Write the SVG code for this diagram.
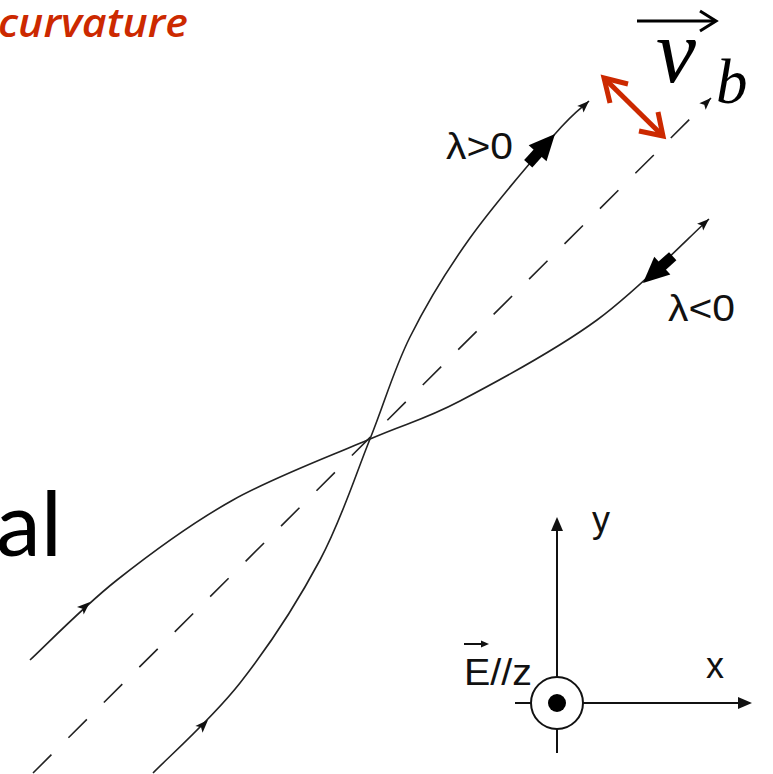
<svg xmlns="http://www.w3.org/2000/svg" width="773" height="774" viewBox="0 0 773 774">
<style>
.curve{fill:none;stroke:#222;stroke-width:1.6}
.dash{fill:none;stroke:#222;stroke-width:1.6;stroke-dasharray:26 24}
.ax{fill:none;stroke:#111;stroke-width:2}
.lbl{font-family:"Liberation Sans",Arial,sans-serif;fill:#111}
.head{fill:#111}
</style>
<defs>
<marker id="sm" markerUnits="userSpaceOnUse" markerWidth="14" markerHeight="12" viewBox="-13 -6 14 12" refX="0" refY="0" orient="auto">
<polygon points="0,0 -12,-4.5 -9.5,0 -12,4.5" fill="#111"/>
</marker>
<polygon id="small" points="0,0 -13,-5 -10,0 -13,5" fill="#111"/>
<g id="thick" fill="#000"><polygon points="0,0 -26,-12 -26,12"/><rect x="-40" y="-5.5" width="16" height="11"/></g>
</defs>

<g id="title"><text x="-2" y="37" font-family="'Open Sans','Liberation Sans',sans-serif" font-style="italic" font-weight="600" font-size="39" fill="#cc2900" textLength="190" lengthAdjust="spacingAndGlyphs">curvature</text></g>

<g id="word"><text x="-4" y="556" font-family="Lato,'Open Sans',sans-serif" font-size="90" fill="#000">al</text></g>

<g id="connectors">
<path class="dash" d="M33,773 L711,98" marker-end="url(#sm)"/>
<path id="curveA" class="curve" d="M153,773 C167.5,758 212.2,718.5 240,683 C267.8,647.5 298.3,600.7 320,560 C341.7,519.3 355,476.2 370,439 C385,401.8 393.3,370.5 410,337 C426.7,303.5 445.8,271.8 470,238 C494.2,204.2 535.3,156.7 555,134 C574.7,111.3 582.5,107.3 589,101" marker-end="url(#sm)"/>
<path id="curveB" class="curve" d="M30,660 C44.5,646.7 83.2,606.7 117,580 C150.8,553.3 190.8,523.5 233,500 C275.2,476.5 332.2,455.5 370,439 C407.8,422.5 422.2,420.8 460,401 C497.8,381.2 555.7,350.2 597,320 C638.3,289.8 689.5,236.7 709,219" marker-end="url(#sm)"/>
<use href="#small" transform="translate(208,720) rotate(-46)"/>
<use href="#small" transform="translate(90,602) rotate(-42)"/>
<use href="#thick" transform="translate(555,134) rotate(-48)"/>
<use href="#thick" transform="translate(643,283) rotate(138)"/>
</g>

<g id="lambda-pos"><text class="lbl" x="446" y="159" font-size="36" textLength="67" lengthAdjust="spacingAndGlyphs">λ&gt;0</text></g>
<g id="lambda-neg"><text class="lbl" x="668" y="321" font-size="36" textLength="67" lengthAdjust="spacingAndGlyphs">λ&lt;0</text></g>

<g id="vb">
<line x1="637" y1="21" x2="714" y2="21" stroke="#000" stroke-width="3"/>
<polyline points="700,11 716,21 700,31" fill="none" stroke="#000" stroke-width="3"/>
<text x="656" y="82" font-family="'Liberation Serif','Times New Roman',serif" font-style="italic" font-size="90" fill="#000">v</text>
<text x="716" y="103" font-family="'Liberation Serif','Times New Roman',serif" font-style="italic" font-size="63" fill="#000">b</text>
</g>

<g id="red-arrow" fill="none" stroke="#cc2900" stroke-width="5">
<line x1="604" y1="78" x2="663" y2="136"/>
<polyline points="628,84 604,78 610,103"/>
<polyline points="639,131 663,136 658,112"/>
</g>

<g id="axes">
<line class="ax" x1="557" y1="529" x2="557" y2="677"/>
<polygon class="head" points="557,517 551,531 563,531"/>
<line class="ax" x1="557" y1="729" x2="557" y2="753"/>
<line class="ax" x1="515" y1="703" x2="531" y2="703"/>
<line class="ax" x1="583" y1="703" x2="740" y2="703"/>
<polygon class="head" points="752,703 738,697 738,709"/>
<circle cx="557" cy="703" r="26" fill="#fff" stroke="#111" stroke-width="2"/>
<circle cx="557" cy="703" r="9" fill="#000"/>
<text class="lbl" x="592" y="532" font-size="36">y</text>
<text class="lbl" x="706" y="678" font-size="36">x</text>
<line x1="464" y1="644" x2="482" y2="644" stroke="#111" stroke-width="2"/>
<polygon class="head" points="489,644 481,640.5 481,647.5"/>
<text class="lbl" x="464" y="685" font-size="37" textLength="68" lengthAdjust="spacingAndGlyphs">E//z</text>
</g>
</svg>
